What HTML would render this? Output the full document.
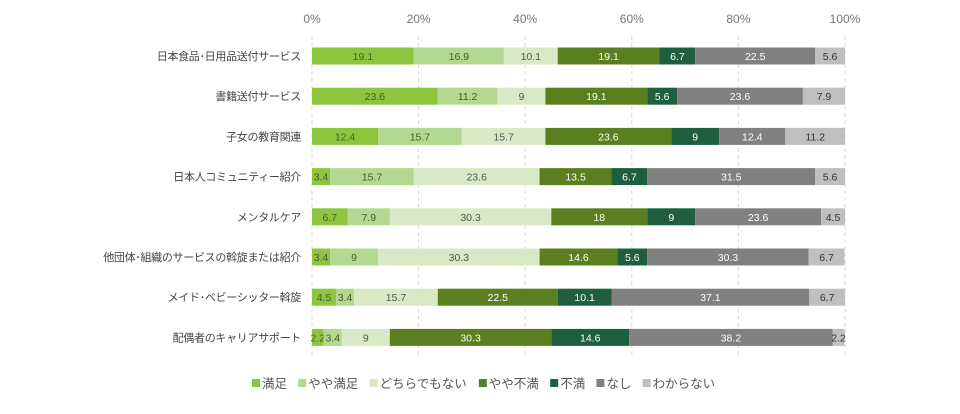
<!DOCTYPE html>
<html><head><meta charset="utf-8"><style>
body{margin:0;background:#fff;}
svg{display:block;font-family:"Liberation Sans","Noto Sans CJK JP",sans-serif;}
</style></head><body>
<svg id="chart" width="960" height="414" viewBox="0 0 960 414"></svg>
<script>
const categories=["日本食品・日用品送付サービス","書籍送付サービス","子女の教育関連","日本人コミュニティー紹介","メンタルケア","他団体・組織のサービスの斡旋または紹介","メイド・ベビーシッター斡旋","配偶者のキャリアサポート"];
const seriesNames=["満足","やや満足","どちらでもない","やや不満","不満","なし","わからない"];
const s0=[19.1,23.6,12.4,3.4,6.7,3.4,4.5,2.2];
const s1=[16.9,11.2,15.7,15.7,7.9,9,3.4,3.4];
const s2=[10.1,9,15.7,23.6,30.3,30.3,15.7,9];
const s3=[19.1,19.1,23.6,13.5,18,14.6,22.5,30.3];
const s4=[6.7,5.6,9,6.7,9,5.6,10.1,14.6];
const s5=[22.5,23.6,12.4,31.5,23.6,30.3,37.1,38.2];
const s6=[5.6,7.9,11.2,5.6,4.5,6.7,6.7,2.2];
const tickValues=[0,20,40,60,80,100];
const series=[s0,s1,s2,s3,s4,s5,s6];
const colors=["#8cc63e","#b3d88f","#d8eac5","#5a7f1f","#1f5f3f","#808080","#bfbfbf"];
const textColors=["#4a5a2a","#4a5a2a","#555","#fff","#fff","#fff","#333"];
const NS="http://www.w3.org/2000/svg";
const svg=document.getElementById('chart');
const x0=312,x1=845,yTop=56,rowStep=40.2,barH=17;
const xs=v=>x0+(x1-x0)*v/100;
const yc=i=>yTop+i*rowStep;
function mk(t,a){const e=document.createElementNS(NS,t);for(const k in a)e.setAttribute(k,a[k]);svg.appendChild(e);return e;}
tickValues.forEach(t=>{
  const l=mk('line',{x1:xs(t),x2:xs(t),y1:36,y2:356,stroke:'#d9d9d9','stroke-dasharray':'4,3'});
  
  
  const tx=mk('text',{x:xs(t),y:23,'text-anchor':'middle','font-size':12,fill:'#777'});
  tx.textContent=t+'%';
  
  
});
categories.forEach((c,i)=>{
  const t=mk('text',{x:301,y:yc(i)+4,'text-anchor':'end','font-size':11,fill:'#444','letter-spacing':'-0.3'});
  t.textContent=c.replace(/・/g,'･');
  
  
  let acc=0;
  series.forEach((s,j)=>{
    const v=s[i];
    const r=mk('rect',{x:xs(acc),y:yc(i)-barH/2,width:xs(acc+v)-xs(acc),height:barH,fill:colors[j]});
    
    
    const tv=mk('text',{x:(xs(acc)+xs(acc+v))/2,y:yc(i)+4,'text-anchor':'middle','font-size':10.5,fill:textColors[j]});
    tv.textContent=v;
    
    
    acc+=v;
  });
});
let lx=252;
seriesNames.forEach((n,j)=>{
  const r=mk('rect',{x:lx,y:379,width:8,height:8,fill:colors[j]});
  
  
  const t=mk('text',{x:lx+10,y:388,'font-size':12.5,fill:'#555'});
  t.textContent=n;
  
  
  lx+=10+n.length*12.6+11;
});
</script>
</body></html>
